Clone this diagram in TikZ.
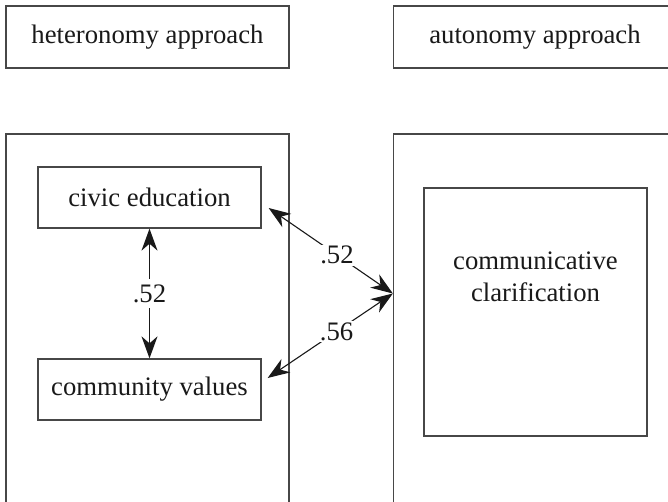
\documentclass[tikz,border=0pt]{standalone}
\usepackage{fontspec}
\setmainfont{Liberation Serif}
\usetikzlibrary{arrows.meta,calc}
\begin{document}
\begin{tikzpicture}[x=1pt,y=-1pt,
  txt/.style={font=\fontsize{26.7}{31.5}\selectfont, text=black!90},
  box/.style={draw=black!72, line width=1.3pt, inner sep=0pt, txt},
  dbl/.style={{Stealth[length=22pt,width=16pt,inset=7pt]}-{Stealth[length=22pt,width=16pt,inset=7pt]}, line width=1.1pt, draw=black!90},
  lbl/.style={fill=white, inner sep=1.5pt, txt}]
\useasboundingbox (0,0) rectangle (668,501);
\fill[white] (0,0) rectangle (668,501);
\clip (0,0) rectangle (668,501);
\node[box, minimum width=283pt, minimum height=62pt] (het) at (147.5,37) {heteronomy approach};
\node[box, minimum width=283pt, minimum height=62pt] (aut) at (535,37) {autonomy approach};
\node[box, minimum width=283pt, minimum height=440pt] (bigL) at (147.5,354) {};
\node[box, minimum width=283pt, minimum height=440pt] (bigR) at (535,354) {};
\node[box, minimum width=223pt, minimum height=61pt] (civic) at (149.5,197.5) {civic education};
\node[box, minimum width=223pt, minimum height=61pt] (comm) at (149.5,389.5) {community values};
\node[box, minimum width=223pt, minimum height=248pt] (cc) at (535.5,312) {};
\node[txt, align=center] (cctext) at (535.5,277) {communicative\\clarification};
\coordinate (m) at ($(civic.south)!0.5!(comm.north)$);
\coordinate (meet) at (bigR.west |- m);
\coordinate (ct) at ([shift={(7,10.5)}]civic.east);
\coordinate (cv) at ([shift={(6,-11.5)}]comm.east);
\draw[dbl] (civic.south) -- node[lbl, inner sep=5pt] {.52} (comm.north);
\draw[dbl] (ct) -- node[lbl, pos=0.55] {.52} (meet);
\draw[dbl] (cv) -- node[lbl, pos=0.55] {.56} (meet);
\end{tikzpicture}
\end{document}
